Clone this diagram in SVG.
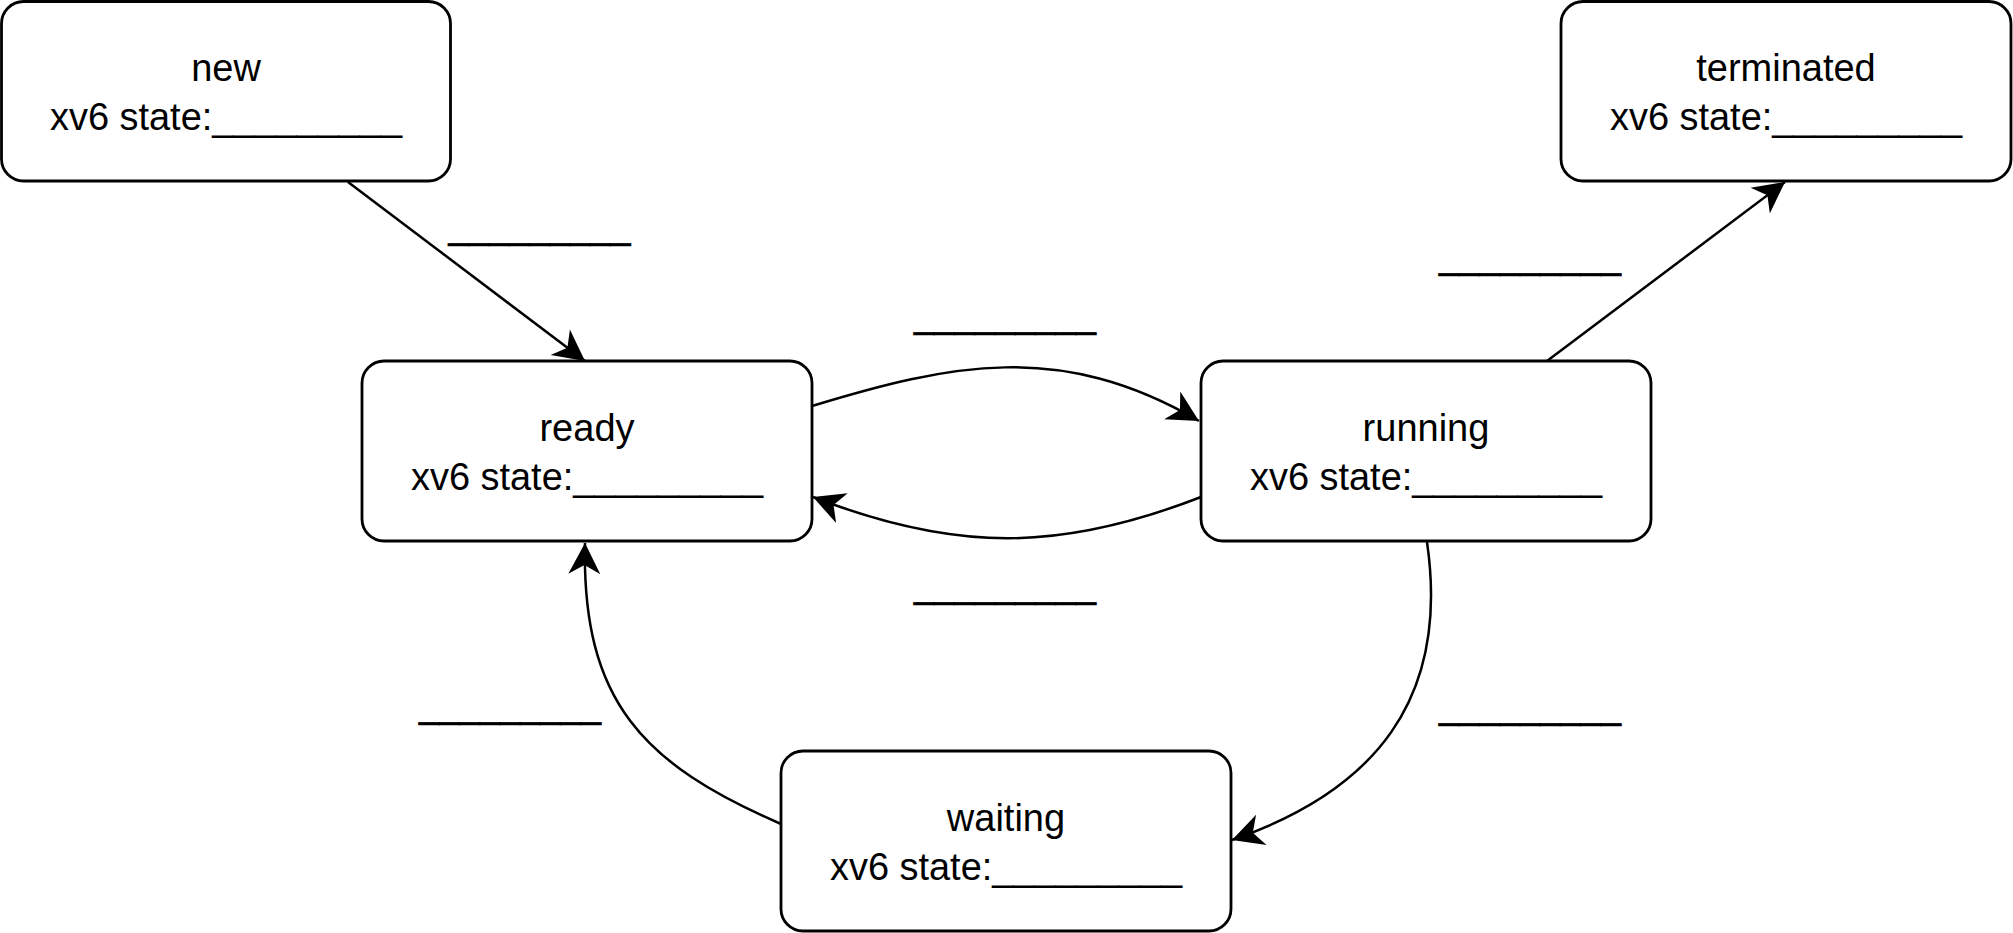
<svg xmlns="http://www.w3.org/2000/svg" width="2013" height="933" viewBox="0 0 2013 933">
<style>
  .box { fill: #ffffff; stroke: #000000; stroke-width: 2.8; }
  .t { font-family: "Liberation Sans", Arial, sans-serif; font-size: 38px; fill: #000000; text-anchor: middle; }
  .lbl { stroke: #000000; stroke-width: 0.7; }
  .edge { fill: none; stroke: #000000; stroke-width: 2.5; marker-end: url(#arr); }
</style>
<defs>
  <marker id="arr" markerUnits="userSpaceOnUse" viewBox="-34 -18 36 36" markerWidth="36" markerHeight="36" refX="0" refY="0" orient="auto">
    <path d="M0,0 L-31,-16 L-22,0 L-31,16 Z" fill="#000000"/>
  </marker>
</defs>
<rect width="2013" height="933" fill="#ffffff"/>
<g id="connectors">
  <path class="edge" d="M348,182 L585,361"/>
  <path class="edge" d="M812,406 C950,364 1060,340 1199,421"/>
  <path class="edge" d="M1201,497 C1060,552 955,552 813,497"/>
  <path class="edge" d="M1547,361 L1785,182"/>
  <path class="edge" d="M1427,542 C1450,700 1374,791 1232,840"/>
  <path class="edge" d="M781,824 C643.5,764.3 581.5,702 585,543"/>
</g>
<g id="edge-labels">
  <text class="t lbl" x="539.5" y="237.6" textLength="182" lengthAdjust="spacingAndGlyphs">_________</text>
  <text class="t lbl" x="1005" y="327.3" textLength="182" lengthAdjust="spacingAndGlyphs">_________</text>
  <text class="t lbl" x="1005" y="597.3" textLength="182" lengthAdjust="spacingAndGlyphs">_________</text>
  <text class="t lbl" x="1530" y="267.6" textLength="182" lengthAdjust="spacingAndGlyphs">_________</text>
  <text class="t lbl" x="510" y="717.3" textLength="182" lengthAdjust="spacingAndGlyphs">_________</text>
  <text class="t lbl" x="1530" y="717.6" textLength="182" lengthAdjust="spacingAndGlyphs">_________</text>
</g>
<g id="node-new">
  <rect class="box" x="1.5" y="1.5" width="449" height="179.5" rx="22" ry="22"/>
  <text class="t" x="226" y="81">new</text>
  <text class="t" x="226" y="130" textLength="352" lengthAdjust="spacingAndGlyphs">xv6 state:_________</text>
</g>
<g id="node-terminated">
  <rect class="box" x="1561" y="1.5" width="450" height="179.5" rx="22" ry="22"/>
  <text class="t" x="1786" y="81">terminated</text>
  <text class="t" x="1786" y="130" textLength="352" lengthAdjust="spacingAndGlyphs">xv6 state:_________</text>
</g>
<g id="node-ready">
  <rect class="box" x="362" y="361" width="450" height="180" rx="22" ry="22"/>
  <text class="t" x="587" y="441">ready</text>
  <text class="t" x="587" y="490" textLength="352" lengthAdjust="spacingAndGlyphs">xv6 state:_________</text>
</g>
<g id="node-running">
  <rect class="box" x="1201" y="361" width="450" height="180" rx="22" ry="22"/>
  <text class="t" x="1426" y="441">running</text>
  <text class="t" x="1426" y="490" textLength="352" lengthAdjust="spacingAndGlyphs">xv6 state:_________</text>
</g>
<g id="node-waiting">
  <rect class="box" x="781" y="751" width="450" height="180" rx="22" ry="22"/>
  <text class="t" x="1006" y="831">waiting</text>
  <text class="t" x="1006" y="880" textLength="352" lengthAdjust="spacingAndGlyphs">xv6 state:_________</text>
</g>
</svg>
